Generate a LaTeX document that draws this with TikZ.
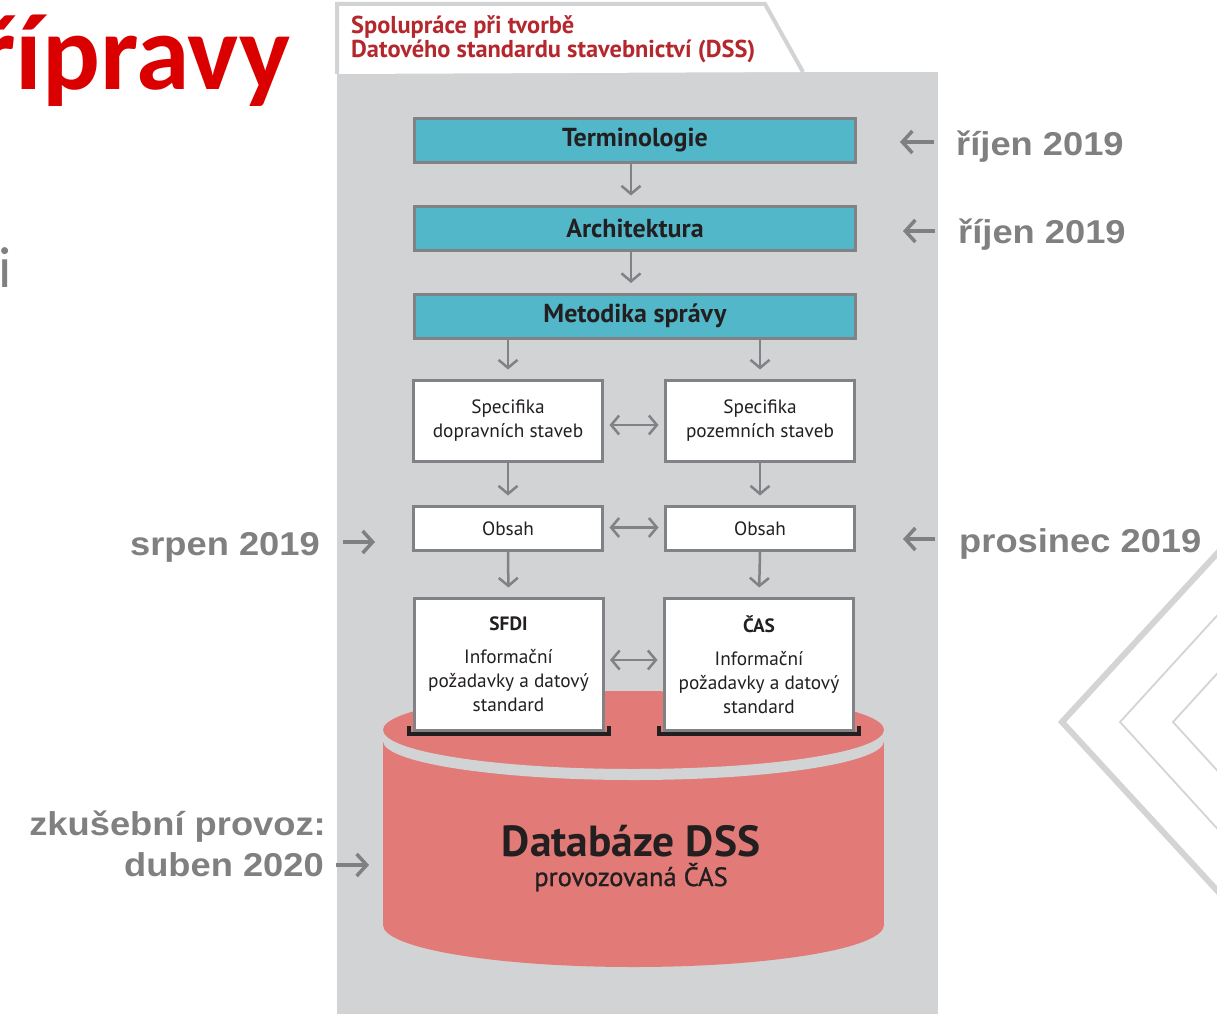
\documentclass[tikz,border=0pt]{standalone}
\usepackage{fontspec}
\usepackage{graphicx}
\setmainfont{PT Sans}
\newfontfamily\datefont{Liberation Sans}
\newfontfamily\slidefont{Carlito}
\newfontfamily\semibold[FakeBold=1]{PT Sans}
\usetikzlibrary{arrows.meta,calc}

\definecolor{panelgray}{RGB}{209,211,212}
\definecolor{linegray}{RGB}{128,130,133}
\definecolor{boxteal}{RGB}{82,184,201}
\definecolor{tabred}{RGB}{180,40,45}
\definecolor{slidered}{RGB}{218,0,0}
\definecolor{labelgray}{RGB}{128,128,128}
\definecolor{dbred}{RGB}{226,123,119}
\definecolor{inkdark}{RGB}{35,31,32}
\definecolor{chevgray}{RGB}{212,212,212}

\begin{document}
\begin{tikzpicture}[x=1pt,y=-1pt,
  >={Straight Barb[length=8pt,width=19pt]},
  tealbox/.style={draw=linegray, line width=3pt, fill=boxteal, minimum width=441pt,
    minimum height=44pt, inner sep=0pt, text=inkdark,
    font=\bfseries\fontsize{26}{30}\selectfont},
  whitebox/.style={draw=linegray, line width=3pt, fill=white, minimum width=189pt,
    inner sep=0pt, align=center, text=inkdark,
    font=\fontsize{19.3}{24}\selectfont},
  flow/.style={draw=linegray, line width=2.5pt, ->, shorten >=9.5pt},
  flowboth/.style={draw=linegray, line width=2.5pt, <->, shorten <=5.5pt, shorten >=5.5pt},
  blackbase/.style={draw=inkdark, line width=4pt, line join=miter},
  datelabel/.style={inner sep=0pt, text=labelgray,
    font=\datefont\bfseries\fontsize{33}{38}\selectfont},
  datearrow/.style={draw=labelgray, line width=3.5pt,
    -{Straight Barb[length=10pt,width=22pt]}},
  tabtitle/.style={inner sep=0pt, anchor=base west, text=tabred,
    font=\bfseries\fontsize{24.4}{28}\selectfont}
]
\useasboundingbox (0,0) rectangle (1217,1014);
\fill[white] (0,0) rectangle (1217,1014);

% slide title and trailing text
\node[anchor=base west, inner sep=0pt, text=slidered,
  font=\slidefont\bfseries\fontsize{108}{112}\selectfont] (title) at (-23,90) {řípravy};
\node[anchor=base east, inner sep=0pt, text=labelgray,
  font=\slidefont\fontsize{58}{62}\selectfont] (trail) at (12,287) {i};

% decorative chevrons
\draw[chevgray, line width=6pt, line join=miter] (1224,546) -- (1062,722) -- (1224,898);
\draw[chevgray, line width=1.8pt, line join=miter] (1224,608) -- (1120,722) -- (1224,836);
\draw[chevgray, line width=1.8pt, line join=miter] (1224,666) -- (1173,722) -- (1224,778);

% panel and tab
\fill[panelgray] (337,72) rectangle (938,1014);
\filldraw[draw=panelgray, line width=4pt, fill=white, line join=miter]
  (337,74) -- (337,4) -- (765,4) -- (803,72);
\node[tabtitle] (tabline1) at (351,34) {Spolupráce při tvorbě};
\node[tabtitle] (tabline2) at (351,58) {Datového standardu stavebnictví (DSS)};

% main sequence
\node[tealbox] (term) at (635,140.5) {Terminologie};
\node[tealbox] (arch) at (635,228.5) {Architektura};
\node[tealbox] (meth) at (635,316) {Metodika správy};

\node[whitebox, minimum height=81pt] (spec1) at (508,421) {Specifika\\dopravních staveb};
\node[whitebox, minimum height=81pt] (spec2) at (760,421) {Specifika\\pozemních staveb};
\node[whitebox, minimum height=44pt] (obs1) at (508,528.5) {Obsah};
\node[whitebox, minimum height=44pt] (obs2) at (760,528.5) {Obsah};

\draw[flow] ([xshift=-4pt]term.south) -- ([xshift=-4pt]arch.north);
\draw[flow] ([xshift=-4pt]arch.south) -- ([xshift=-4pt]meth.north);
\draw[flow] (meth.south -| spec1.north) -- (spec1.north);
\draw[flow] (meth.south -| spec2.north) -- (spec2.north);
\draw[flow] (spec1.south) -- (obs1.north);
\draw[flow] (spec2.south) -- (obs2.north);
\draw[flowboth] ([yshift=-4pt]spec1.east) -- ([yshift=-4pt]spec2.west);
\draw[flowboth] ([yshift=1pt]obs1.east) -- ([yshift=1pt]obs2.west);

% database cylinder
\fill[dbred] (633.5,730) ellipse[x radius=250.5, y radius=39];
\fill[dbred] (383,730) rectangle (884,925);
\fill[dbred] (633.5,925) ellipse[x radius=250.5, y radius=42];
\fill[panelgray] (383,730) arc[start angle=180, end angle=0, x radius=250.5, y radius=39]
  -- (884,741) arc[start angle=0, end angle=180, x radius=250.5, y radius=39] -- cycle;
\node[anchor=base, inner sep=0pt, text=inkdark,
  font=\bfseries\fontsize{43.5}{46}\selectfont] (dbname) at (631,856) {Databáze DSS};
\node[anchor=base, inner sep=0pt, text=inkdark,
  font=\semibold\fontsize{26.5}{30}\selectfont] (dbnote) at (631,886) {provozovaná ČAS};

% standards of the two parties
\node[whitebox, minimum height=132pt] (sfdi) at (508.5,664.5)
  {\textbf{SFDI}\\[9pt]Informační\\požadavky a datový\\standard};
\node[whitebox, minimum height=132pt] (cas) at (759,664.5)
  {\textbf{ČAS}\\[9pt]Informační\\požadavky a datový\\standard};
\draw[blackbase] ([shift={(-4,-6)}]sfdi.south west) -- ([shift={(-4,1.5)}]sfdi.south west)
  -- ([shift={(4,1.5)}]sfdi.south east) -- ([shift={(4,-6)}]sfdi.south east);
\draw[blackbase] ([shift={(-4,-6)}]cas.south west) -- ([shift={(-4,1.5)}]cas.south west)
  -- ([shift={(4,1.5)}]cas.south east) -- ([shift={(4,-6)}]cas.south east);
\draw[flow] (obs1.south) -- (sfdi.north);
\draw[flow] (obs2.south) -- (cas.north);
\draw[flowboth] ([yshift=4.5pt]sfdi.east) -- ([yshift=4.5pt]cas.west);

% dates
\node[datelabel, anchor=base west] (r1) at (956,155) {\scalebox{1.1}[1]{říjen 2019}};
\node[datelabel, anchor=base west] (r2) at (958,243) {\scalebox{1.1}[1]{říjen 2019}};
\node[datelabel, anchor=base west] (r3) at (959,552) {\scalebox{1.1}[1]{prosinec 2019}};
\node[datelabel, anchor=base east] (l1) at (320,555) {\scalebox{1.1}[1]{srpen 2019}};
\node[datelabel, anchor=base east] (l2a) at (326,835) {\scalebox{1.1}[1]{zkušební provoz:}};
\node[datelabel, anchor=base east] (l2b) at (324,876) {\scalebox{1.1}[1]{duben 2020}};

\coordinate (r1tip) at (900,142);
\coordinate (r2tip) at (903,231);
\coordinate (r3tip) at (903,539);
\coordinate (l1tip) at (375,542);
\coordinate (l2tip) at (369,865);
\draw[datearrow, shorten <=22pt] (r1.west |- r1tip) -- (r1tip);
\draw[datearrow, shorten <=23pt] (r2.west |- r2tip) -- (r2tip);
\draw[datearrow, shorten <=24pt] (r3.west |- r3tip) -- (r3tip);
\draw[datearrow, shorten <=23pt] (l1.east |- l1tip) -- (l1tip);
\draw[datearrow, shorten <=12pt] (l2b.east |- l2tip) -- (l2tip);
\end{tikzpicture}
\end{document}
